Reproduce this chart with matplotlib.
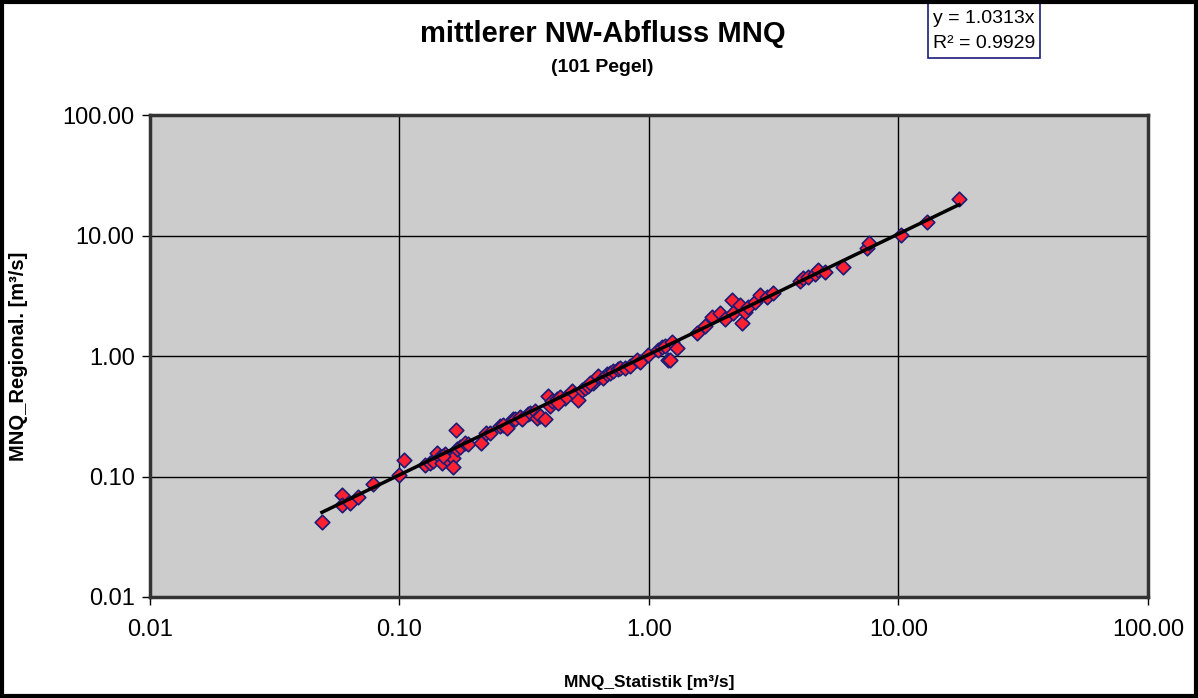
import numpy as np
import matplotlib.pyplot as plt
from matplotlib.patches import Rectangle

plt.rcParams['font.family'] = ['Liberation Sans', 'DejaVu Sans']

mnq_stat = np.array([
    0.0489, 0.0588, 0.0588, 0.0633, 0.0682, 0.0783, 0.0995, 0.104, 0.126, 0.132,
    0.136, 0.141, 0.145, 0.148, 0.152, 0.155, 0.164, 0.164, 0.168, 0.170,
    0.175, 0.183, 0.188, 0.212, 0.222, 0.231, 0.253, 0.260, 0.270, 0.285,
    0.290, 0.304, 0.327, 0.333, 0.349, 0.356, 0.366, 0.383, 0.394, 0.401,
    0.408, 0.428, 0.440, 0.460, 0.491, 0.505, 0.519, 0.538, 0.553, 0.569,
    0.597, 0.608, 0.625, 0.655, 0.679, 0.698, 0.718, 0.752, 0.766, 0.802,
    0.839, 0.895, 0.920, 0.991, 1.087, 1.128, 1.159, 1.191, 1.213, 1.236,
    1.295, 1.557, 1.676, 1.788, 1.926, 2.017, 2.152, 2.172, 2.317, 2.360,
    2.426, 2.494, 2.661, 2.786, 2.972, 3.141, 4.027, 4.140, 4.335, 4.624,
    4.753, 5.070, 5.994, 7.48, 7.62, 10.23, 13.0, 17.5,
    0.150, 0.310, 0.430, 0.580,
])
mnq_reg = np.array([
    0.0420, 0.0705, 0.0582, 0.0605, 0.0679, 0.0871, 0.1035, 0.138, 0.1253, 0.130,
    0.135, 0.158, 0.146, 0.130, 0.1545, 0.1406, 0.143, 0.1205, 0.245, 0.170,
    0.177, 0.191, 0.187, 0.191, 0.231, 0.231, 0.264, 0.269, 0.254, 0.302,
    0.302, 0.314, 0.333, 0.339, 0.352, 0.308, 0.320, 0.302, 0.470, 0.388,
    0.426, 0.443, 0.461, 0.452, 0.516, 0.488, 0.435, 0.526, 0.547, 0.569,
    0.602, 0.626, 0.689, 0.663, 0.715, 0.729, 0.757, 0.773, 0.802, 0.802,
    0.834, 0.935, 0.899, 1.01, 1.132, 1.177, 1.222, 0.935, 0.918, 1.295,
    1.155, 1.567, 1.758, 2.091, 2.256, 2.012, 2.895, 2.256, 2.630, 1.863,
    2.30, 2.531, 2.786, 3.186, 3.067, 3.311, 4.166, 4.413, 4.497, 4.764,
    5.14, 4.948, 5.445, 7.83, 8.63, 10.05, 12.9, 20.0,
    0.148, 0.300, 0.410, 0.600,
])
slope = 1.0313
r2 = 0.9929
ticks = [0.01, 0.1, 1, 10, 100]
tick_labels = ['0.01', '0.10', '1.00', '10.00', '100.00']

fig = plt.figure(figsize=(11.98, 6.98), dpi=100)
ax = fig.add_axes([0.1252, 0.1447, 0.833, 0.6905])
ax.set_facecolor('#cccccc')

ax.set_xscale('log')
ax.set_yscale('log')
ax.set_xlim(0.01, 100)
ax.set_ylim(0.01, 100)

ax.scatter(mnq_stat, mnq_reg, marker='D', s=55, c='#ff2030',
           edgecolors='#1c1c78', linewidths=1.2, zorder=3)

xl = np.array([mnq_stat.min(), mnq_stat.max()])
ax.plot(xl, slope * xl, c='black', lw=2.5, zorder=4)

ax.set_xticks(ticks)
ax.set_xticklabels(tick_labels)
ax.set_yticks(ticks)
ax.set_yticklabels(tick_labels)
ax.minorticks_off()
ax.tick_params(labelsize=17, length=6, width=1, direction='out')
ax.tick_params(axis='x', pad=10)
ax.tick_params(axis='y', pad=5)
ax.grid(which='major', color='black', linewidth=1)
ax.set_axisbelow(True)
for s in ax.spines.values():
    s.set_linewidth(2.5)
    s.set_color('#333333')

ax.set_xlabel('MNQ_Statistik [m³/s]', fontsize=12.5, fontweight='bold', labelpad=24)
ax.set_ylabel('MNQ_Regional. [m³/s]', fontsize=14.5, fontweight='bold', labelpad=25)

fig.text(0.503, 0.952, 'mittlerer NW-Abfluss MNQ', ha='center', va='center',
         fontsize=21, fontweight='bold')
fig.text(0.503, 0.904, '(101 Pegel)', ha='center', va='center',
         fontsize=14, fontweight='bold')

fig.text(0.8215, 0.974, 'y = {:.4f}x'.format(slope), ha='center', va='center', fontsize=14)
fig.text(0.8215, 0.937, 'R² = {:.4f}'.format(r2), ha='center', va='center', fontsize=14)
fig.patches.append(Rectangle((0.7745, 0.917), 0.0935, 0.079, transform=fig.transFigure,
                             fill=False, edgecolor='#1c1c78', linewidth=1.2))

fig.patches.append(Rectangle((0.002, 0.003), 0.996, 0.994, transform=fig.transFigure,
                             fill=False, edgecolor='black', linewidth=3))

fig.savefig('out.png', dpi=100)
